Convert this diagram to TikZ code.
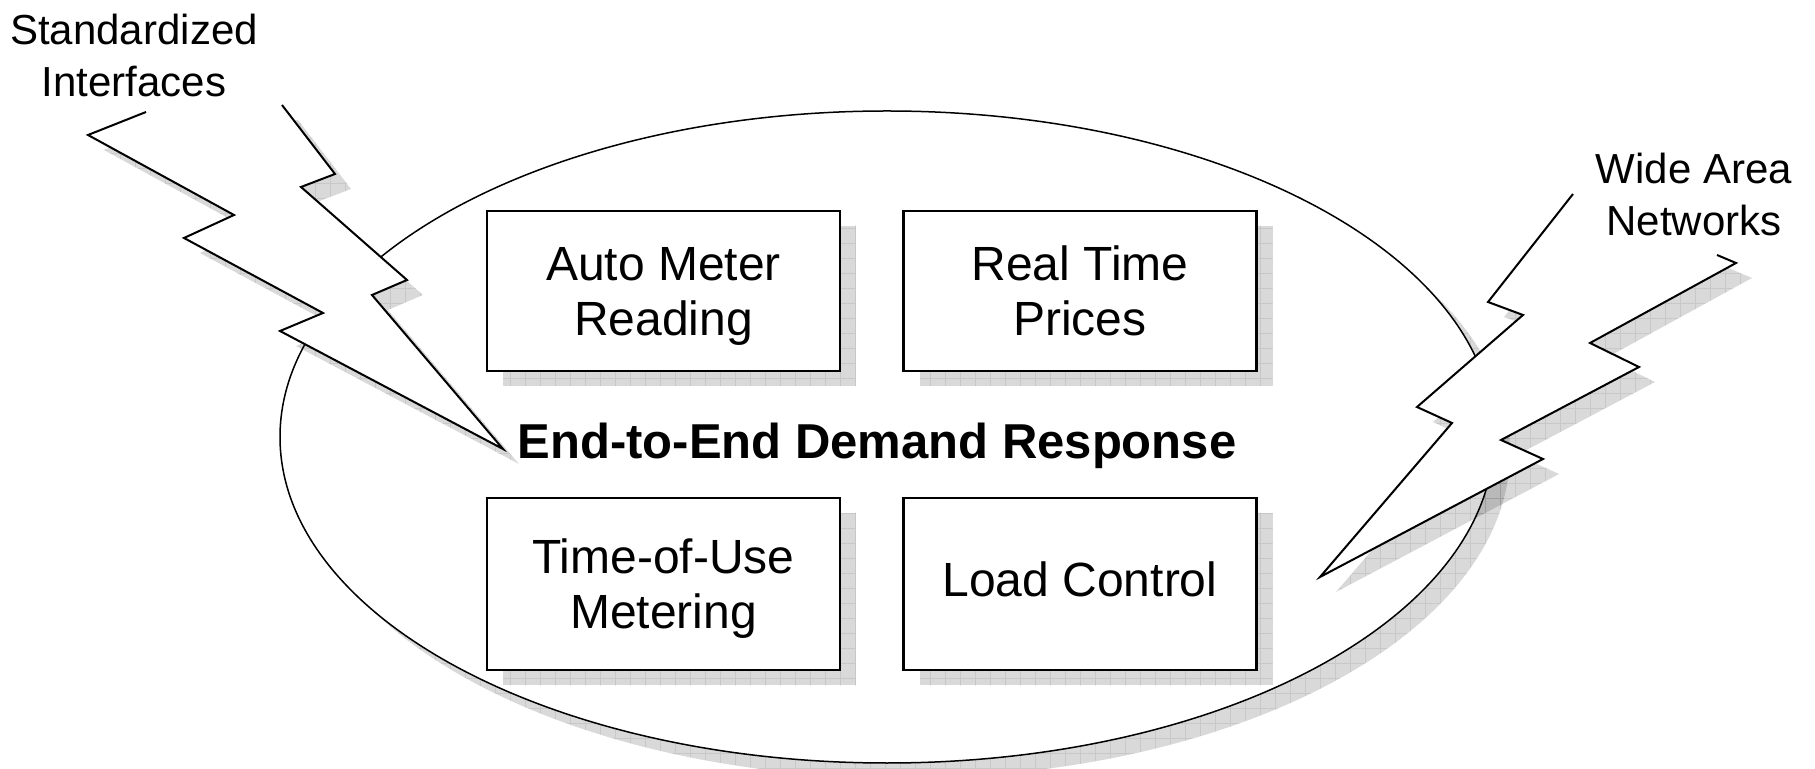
\documentclass[tikz,border=0pt]{standalone}
\usepackage{fontspec}
\setmainfont{Liberation Sans}
\usetikzlibrary{shapes.geometric,shadows,patterns.meta}
\begin{document}
\begin{tikzpicture}[x=0.5pt,y=-0.5pt,
  shad/.style={drop shadow={shadow xshift=8pt,shadow yshift=-7.5pt,fill=black,opacity=0.15},
               drop shadow={shadow xshift=8pt,shadow yshift=-7.5pt,pattern={Hatch[distance=7.5pt,line width=0.5pt]},pattern color=black,opacity=0.08}},
  box/.style={draw=black,line width=1.3pt,fill=white,minimum width=176.5pt,minimum height=80pt,align=center,font=\fontsize{24}{27.5}\selectfont,shad,inner sep=0pt,text depth=0pt},
  bolt/.style={line width=1pt,line join=miter},
  lbl/.style={align=center,font=\fontsize{21}{26}\selectfont}]
\useasboundingbox (0,0) rectangle (1815,769);
% oval
\node[ellipse,draw,line width=0.75pt,fill=white,minimum width=607pt,minimum height=326pt,inner sep=0pt,shad] (oval) at (887,437) {};
% boxes
\node[box] (amr) at (663.5,291) {Auto Meter\\Reading};
\node[box] (rtp) at (1080,291) {Real Time\\Prices};
\node[box,minimum height=86pt] (tou) at (663.5,584) {Time-of-Use\\Metering};
\node[box,minimum height=86pt,text depth=5pt] (lc) at (1080,584) {Load Control};
% title
\node[anchor=base,font=\fontsize{24.5}{28}\selectfont\bfseries] (title) at (877,459) {End-to-End Demand Response};
% left bolt
\fill[white,shad] (146,112) -- (88,135) -- (234,215) -- (184,238) -- (323,313) -- (280,331) -- (503,449) -- (372,295) -- (407,280) -- (301,187) -- (335,174) -- (282,105) -- cycle;
\draw[bolt] (146,112) -- (88,135) -- (234,215) -- (184,238) -- (323,313) -- (280,331) -- (503,449) -- (372,295) -- (407,280) -- (301,187) -- (335,174) -- (282,105);
% right bolt
\fill[white,shad] (1573,194) -- (1488,302) -- (1523,315) -- (1417,407) -- (1452,423) -- (1320,577) -- (1543,459) -- (1501,440) -- (1639,367) -- (1590,343) -- (1736,263) -- (1717,255) -- cycle;
\draw[bolt] (1573,194) -- (1488,302) -- (1523,315) -- (1417,407) -- (1452,423) -- (1320,577) -- (1543,459) -- (1501,440) -- (1639,367) -- (1590,343) -- (1736,263) -- (1717,255);
% labels
\node[lbl] (std) at (134,55) {Standardized\\Interfaces};
\node[lbl] (wan) at (1694,194) {Wide Area\\Networks};
\end{tikzpicture}
\end{document}
